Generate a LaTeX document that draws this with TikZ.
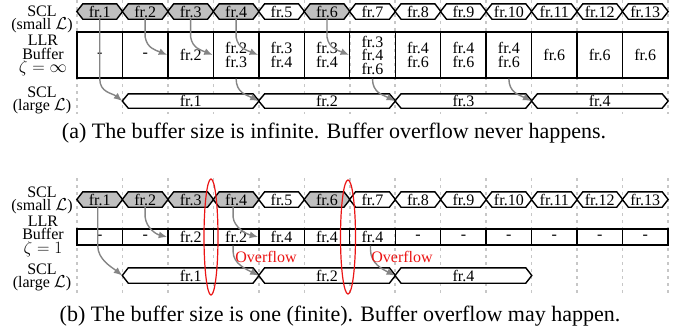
\documentclass[tikz,border=0pt]{standalone}
\usepackage{fontspec}
\setmainfont{Liberation Serif}
\usetikzlibrary{arrows.meta,shapes.geometric}

\pgfdeclarelayer{gridlayer}
\pgfdeclarelayer{shapelayer}
\pgfsetlayers{gridlayer,shapelayer,main}

\definecolor{hexgray}{gray}{0.75}
\definecolor{flowgray}{gray}{0.52}
\definecolor{gridgray}{gray}{0.78}
\definecolor{ovred}{RGB}{235,20,20}

\newcommand\diagfont{\fontsize{16}{13.5}\selectfont}
\newcommand\capfont{\fontsize{22}{24}\selectfont}

\tikzset{
  hexa/.style={inner sep=0pt, font=\diagfont},
  hexline/.style={draw=black, line width=1.4pt, line join=miter},
  cell/.style={draw=black, line width=1.4pt, inner sep=0pt, align=center,
               minimum width=45.46pt, font=\diagfont},
  lbl/.style={align=center, inner sep=0pt, font=\diagfont},
  gridline/.style={draw=gridgray, line width=1.6pt, dash pattern=on 3pt off 4pt},
  flow/.style={draw=flowgray, line width=1.4pt,
               -{Latex[length=8.5pt,width=7pt]}},
  overflowring/.style={ellipse, draw=ovred, line width=1.2pt, inner sep=0pt},
  ovtext/.style={text=ovred, font=\diagfont, inner sep=0pt},
}

% hexagonal frame outline around a named node
\newcommand\hexoutline[2]{%
  \begin{pgfonlayer}{shapelayer}
    \draw[hexline, fill=#2] (#1.west) -- ([xshift=6pt]#1.north west)
      -- ([xshift=-6pt]#1.north east) -- (#1.east)
      -- ([xshift=-6pt]#1.south east) -- ([xshift=6pt]#1.south west) -- cycle;
  \end{pgfonlayer}}

\begin{document}
\begin{tikzpicture}[x=1pt, y=-1pt]
\useasboundingbox (0,0) rectangle (688,332);
\def\cw{45.46}

% time slots
\begin{pgfonlayer}{gridlayer}
  \foreach \k in {0,...,13}{
    \pgfmathsetmacro{\gx}{77+\cw*\k}
    \draw[gridline] (\gx,0) -- (\gx,114);
    \draw[gridline] (\gx,178) -- (\gx,296);
  }
\end{pgfonlayer}

% row labels
\node[lbl] (lblsa) at (42,19.5) {SCL\\(small $\mathcal{L}$)};
\node[lbl] (lblba) at (43,55.5) {LLR\\Buffer\\$\zeta=\infty$};
\node[lbl] (lblla) at (42,100.5) {SCL\\(large $\mathcal{L}$)};
\node[lbl] (lblsb) at (42,200.5) {SCL\\(small $\mathcal{L}$)};
\node[lbl] (lblbb) at (43,236) {LLR\\Buffer\\$\zeta=1$};
\node[lbl] (lbllb) at (42,277.5) {SCL\\(large $\mathcal{L}$)};

% small-list decoding of every frame
\foreach \i/\f in {1/hexgray,2/hexgray,3/hexgray,4/hexgray,5/white,6/hexgray,
                   7/white,8/white,9/white,10/white,11/white,12/white,13/white}{
  \pgfmathsetmacro{\cx}{77+\cw*(\i-0.5)}
  \node[hexa, minimum width=\cw pt, minimum height=15pt] (sa\i) at (\cx,11.5) {fr.\i};
  \hexoutline{sa\i}{\f}
  \node[hexa, minimum width=\cw pt, minimum height=15pt] (sb\i) at (\cx,199.5) {fr.\i};
  \hexoutline{sb\i}{\f}
}

% buffer contents, infinite buffer
\foreach \i/\t in {1/-,2/-,3/fr.2,4/{fr.2\\fr.3},5/{fr.3\\fr.4},6/{fr.3\\fr.4},
                   7/{fr.3\\fr.4\\fr.6},8/{fr.4\\fr.6},9/{fr.4\\fr.6},10/{fr.4\\fr.6},
                   11/fr.6,12/fr.6,13/fr.6}{
  \pgfmathsetmacro{\cx}{77+\cw*(\i-0.5)}
  \node[cell, minimum height=46pt] (ba\i) at (\cx,55) {\t};
}

% buffer contents, buffer of size one
\foreach \i/\t in {1/-,2/-,3/fr.2,4/fr.2,5/fr.4,6/fr.4,7/fr.4,
                   8/-,9/-,10/-,11/-,12/-,13/-}{
  \pgfmathsetmacro{\cx}{77+\cw*(\i-0.5)}
  \node[cell, minimum height=16pt] (bb\i) at (\cx,237) {\t};
}

% large-list decoding
\pgfmathsetmacro{\lw}{3*\cw}
\foreach \i in {1,2,3,4}{
  \pgfmathsetmacro{\cx}{77+\cw*(3*\i-0.5)}
  \node[hexa, minimum width=\lw pt, minimum height=14pt] (la\i) at (\cx,101) {fr.\i};
  \hexoutline{la\i}{white}
}
\foreach \i/\t in {1/1,2/2,3/4}{
  \pgfmathsetmacro{\cx}{77+\cw*(3*\i-0.5)}
  \node[hexa, minimum width=\lw pt, minimum height=15pt] (lb\i) at (\cx,275.5) {fr.\t};
  \hexoutline{lb\i}{white}
}

% data flow, infinite buffer
\draw[flow] (sa1.south) -- (sa1.south |- ba1.south)
  .. controls +(0,14) and +(-10,-8) .. (la1.west);
\draw[flow] (sa2.south) -- ++(0,18) .. controls +(2,11) and +(-12,-5) .. (ba3.west);
\draw[flow] (sa3.south) -- ++(0,18) .. controls +(2,11) and +(-12,-5) .. (ba4.west);
\draw[flow] (sa4.south) -- ++(0,18) .. controls +(2,11) and +(-12,-5) .. (ba5.west);
\draw[flow] (sa6.south) -- ++(0,18) .. controls +(2,11) and +(-12,-5) .. (ba7.west);
\draw[flow] (ba4.south) .. controls +(0,14) and +(-12,-6) .. (la2.west);
\draw[flow] (ba7.south) .. controls +(0,14) and +(-12,-6) .. (la3.west);
\draw[flow] (ba10.south) .. controls +(0,14) and +(-12,-6) .. (la4.west);

% data flow, buffer of size one
\draw[flow] ([xshift=-2pt]sb1.south) -- ([xshift=-2pt]sb1.south |- bb1.south)
  .. controls +(0,14) and +(-10,-8) .. (lb1.west);
\draw[flow] (sb2.south) -- ++(0,10) .. controls +(1,10) and +(-12,-3) .. (bb3.west);
\draw[flow] ([xshift=-3pt]sb4.south) -- ++(0,10) .. controls +(1,10) and +(-12,-3) .. (bb5.west);
\draw[flow] ([xshift=-3pt]bb4.south) -- ++(0,6) .. controls +(0,12) and +(-12,-6) .. (lb2.west);
\draw[flow] ([xshift=-2pt]bb7.south) -- ++(0,4) .. controls +(0,14) and +(-12,-6) .. (lb3.west);

% overflow marks
\node[overflowring, minimum width=14pt, minimum height=116pt] (ring1) at (211,237) {};
\node[overflowring, minimum width=15pt, minimum height=114pt] (ring2) at (348,237) {};
\node[ovtext] (ov1) at (266,257) {Overflow};
\node[ovtext] (ov2) at (402,257) {Overflow};

% captions
\node[font=\capfont, inner sep=0pt] (capa) at (334,133)
  {(a) The buffer size is infinite. Buffer overflow never happens.};
\node[font=\capfont, inner sep=0pt] (capb) at (340,316)
  {(b) The buffer size is one (finite). Buffer overflow may happen.};
\end{tikzpicture}
\end{document}
